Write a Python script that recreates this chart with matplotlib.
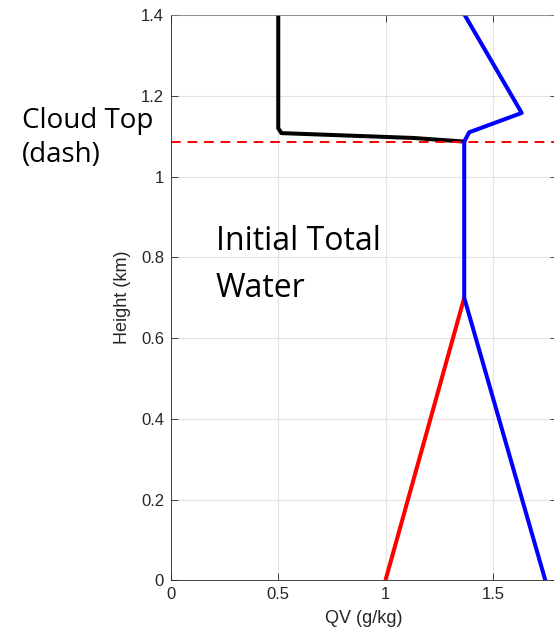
import numpy as np
import matplotlib.pyplot as plt

# profiles (QV in g/kg, height in km)
red_qv = [1.0, 1.367]
red_z = [0.0, 0.70]

black_qv = [0.50, 0.50, 0.515, 1.13, 1.367]
black_z = [1.40, 1.12, 1.108, 1.096, 1.087]

blue_qv = [1.745, 1.367, 1.367, 1.39, 1.635, 1.37]
blue_z = [0.0, 0.70, 1.087, 1.11, 1.158, 1.40]

cloud_top = 1.086

xticks = [0, 0.5, 1, 1.5]
yticks = [0, 0.2, 0.4, 0.6, 0.8, 1.0, 1.2, 1.4]
ytick_labels = ["0", "0.2", "0.4", "0.6", "0.8", "1", "1.2", "1.4"]

plt.rcParams['font.family'] = ['Liberation Sans', 'DejaVu Sans']

W, H = 554, 634
fig = plt.figure(figsize=(W / 100, H / 100), dpi=100)
ax = fig.add_axes([171 / W, (H - 580.2) / H, (171 + 1.8 * 214.5) / W - 171 / W, (580.2 - 15.3) / H])

ax.plot(red_qv, red_z, color='red', lw=2.9, solid_capstyle='butt')
ax.plot(black_qv, black_z, color='black', lw=2.9, solid_joinstyle='round')
ax.plot(blue_qv, blue_z, color='blue', lw=2.9, solid_joinstyle='round')
ax.axhline(cloud_top, color='red', lw=1.4, ls=(0, (5, 3.5)))

ax.set_xlim(0, 1.8)
ax.set_ylim(0, 1.4)
ax.set_xticks(xticks)
ax.set_xticklabels(["0", "0.5", "1", "1.5"])
ax.set_yticks(yticks)
ax.set_yticklabels(ytick_labels)
ax.grid(True, color='#e3e3e3', lw=0.8)
ax.set_axisbelow(True)
ax.tick_params(direction='in', top=True, right=True, length=5, width=0.6,
               labelsize=12, colors='#262626', pad=5)
for s in ax.spines.values():
    s.set_color('#262626')
    s.set_linewidth(0.6)
ax.spines['top'].set_color('#808080')
ax.set_xlabel("QV (g/kg)", fontsize=13, color='#262626', labelpad=6)
ax.set_ylabel("Height (km)", fontsize=13, color='#262626', labelpad=7)

fig.text(22 / W, 1 - 162 / H, "Cloud Top\n(dash)", family='Open Sans', fontsize=20,
         va='baseline', ha='left', linespacing=1.28)
fig.text(216 / W, 1 - 297 / H, "Initial Total\nWater", family='Open Sans', fontsize=23,
         va='baseline', ha='left', linespacing=1.55)

fig.savefig("out.png", dpi=100)
